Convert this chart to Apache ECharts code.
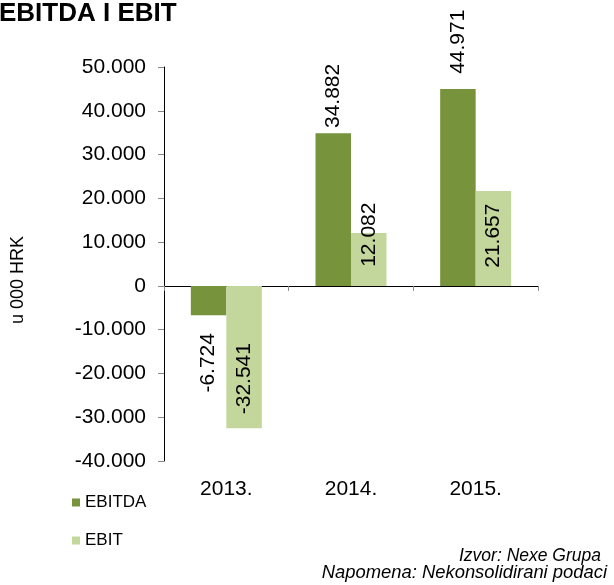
<!DOCTYPE html>
<html><head><meta charset="utf-8">
<script src="https://cdn.jsdelivr.net/npm/echarts@6/dist/echarts.min.js"></script>
<style>html,body{margin:0;padding:0;background:#fff}#c{width:614px;height:585px}</style>
</head><body><div id="c"></div>
<script>
// ---- data ----
const categories = ['2013.', '2014.', '2015.'];
const ebitda = [-6724, 34882, 44971];
const ebit = [-32541, 12082, 21657];
const yMin = -40000, yMax = 50000, yStep = 10000;

// ---- label placement (style) ----
const ebitdaLabelDist = [47.5, 37.3, 47.3];
const ebitLabelDist = [-49.7, -1.7, -44.6];

const FONT = "'Liberation Sans', Arial, Helvetica, sans-serif";
const C1 = '#77933C', C2 = '#C3D69B';

function fmt(v) {
  const s = Math.abs(Math.round(v)).toString().replace(/\B(?=(\d{3})+(?!\d))/g, '.');
  return (v < 0 ? '-' : '') + s;
}
function build(vals, dists) {
  return vals.map((v, i) => ({
    value: v,
    label: { position: v < 0 ? 'bottom' : 'top', distance: dists[i] }
  }));
}
const labelBase = {
  show: true, rotate: 90, align: 'center', verticalAlign: 'middle',
  fontSize: 21, color: '#000', fontFamily: FONT,
  formatter: p => fmt(p.value)
};

const chart = echarts.init(document.getElementById('c'), null, { renderer: 'canvas' });
chart.setOption({
  animation: false,
  backgroundColor: '#fff',
  textStyle: { fontFamily: FONT },
  grid: { left: 164, right: 76, top: 67, bottom: 124, containLabel: false },
  xAxis: [
    {
      type: 'category', data: categories, position: 'bottom',
      axisLine: { show: true, onZero: true, lineStyle: { color: '#000', width: 1 } },
      axisTick: { show: true, length: 5, lineStyle: { color: '#888' } },
      axisLabel: { show: false }
    },
    {
      type: 'category', data: categories, position: 'bottom',
      axisLine: { show: false, onZero: false },
      axisTick: { show: false },
      axisLabel: { show: true, margin: 18, fontSize: 21, color: '#000', fontFamily: FONT }
    }
  ],
  yAxis: {
    type: 'value', min: yMin, max: yMax, interval: yStep,
    axisLine: { show: true, lineStyle: { color: '#000', width: 1 } },
    axisTick: { show: true, length: 6, lineStyle: { color: '#888' } },
    splitLine: { show: false },
    axisLabel: { margin: 18, fontSize: 21, color: '#000', fontFamily: FONT, formatter: v => fmt(v) }
  },
  legend: {
    orient: 'vertical', left: 72, top: 494, padding: 0, itemWidth: 8, itemHeight: 8, itemGap: 21,
    icon: 'rect',
    textStyle: { fontSize: 17, color: '#000', fontFamily: FONT },
    data: ['EBITDA', 'EBIT']
  },
  series: [
    {
      name: 'EBITDA', type: 'bar', xAxisIndex: 0, barWidth: 35.5, barGap: '0%',
      itemStyle: { color: C1 }, label: labelBase, data: build(ebitda, ebitdaLabelDist)
    },
    {
      name: 'EBIT', type: 'bar', xAxisIndex: 0, barWidth: 35.5, barGap: '0%',
      itemStyle: { color: C2 }, label: labelBase, data: build(ebit, ebitLabelDist)
    }
  ],
  graphic: [
    { type: 'text', left: -1, top: 1, style: { text: 'EBITDA I EBIT', font: "bold 26px " + FONT, fill: '#000' } },
    { type: 'text', x: 18, y: 280, rotation: Math.PI / 2,
      style: { text: 'u 000 HRK', font: "18px " + FONT, fill: '#000', align: 'center', verticalAlign: 'middle' } },
    { type: 'text', x: 601, y: 556,
      style: { text: 'Izvor: Nexe Grupa', font: "italic 17.5px " + FONT, fill: '#000', align: 'right', verticalAlign: 'middle' } },
    { type: 'text', x: 607, y: 572.5,
      style: { text: 'Napomena: Nekonsolidirani podaci', font: "italic 18.4px " + FONT, fill: '#000', align: 'right', verticalAlign: 'middle' } }
  ]
});
</script>
</body></html>
